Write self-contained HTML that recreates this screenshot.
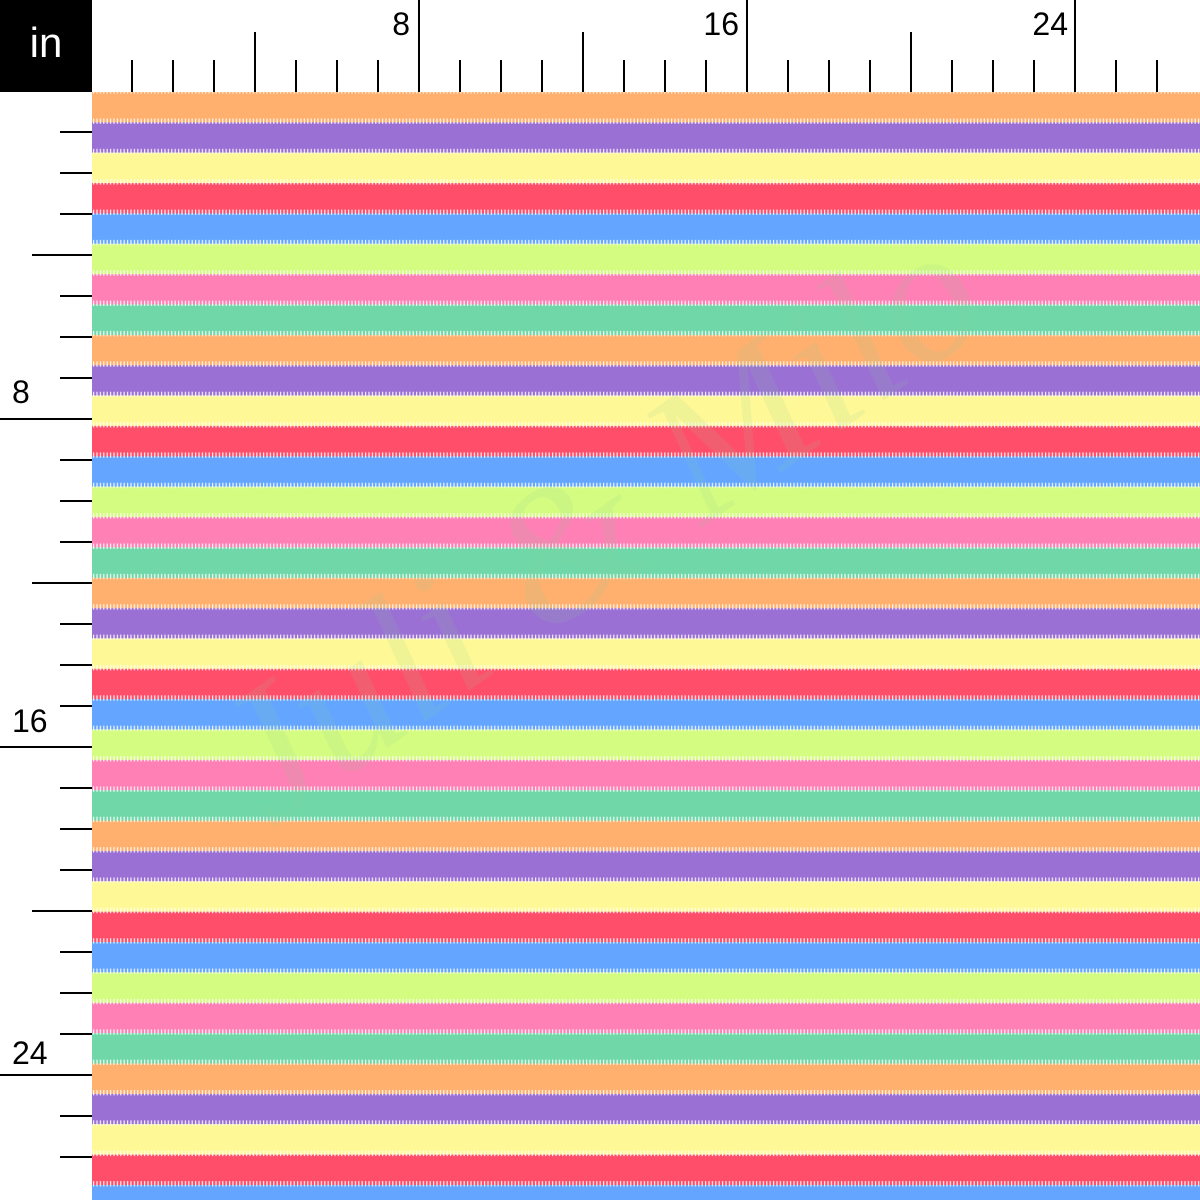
<!DOCTYPE html>
<html><head><meta charset="utf-8"><style>
body{margin:0;width:1200px;height:1200px;overflow:hidden;background:#fff;font-family:"Liberation Sans",sans-serif}
</style></head><body>
<svg width="1200" height="1200" xmlns="http://www.w3.org/2000/svg" style="position:absolute;left:0;top:0">
<defs>
<pattern id="st" x="92" y="92" width="1108" height="242.88" patternUnits="userSpaceOnUse">
<rect y="0" width="1108" height="30.36" fill="#FFB06E"/>
<rect y="30.36" width="1108" height="30.36" fill="#9B70D4"/>
<rect y="60.72" width="1108" height="30.36" fill="#FFF896"/>
<rect y="91.08" width="1108" height="30.36" fill="#FF4E6A"/>
<rect y="121.44" width="1108" height="30.36" fill="#64A6FF"/>
<rect y="151.8" width="1108" height="30.36" fill="#D4FC80"/>
<rect y="182.16" width="1108" height="30.36" fill="#FF80B4"/>
<rect y="212.52" width="1108" height="30.36" fill="#70D8A8"/>
</pattern>
<pattern id="tt" x="92" y="92" width="3.4" height="30.36" patternUnits="userSpaceOnUse">
<rect x="1" y="26.5" width="1.2" height="5" fill="#fff" opacity="0.9"/>
<rect x="1" y="0" width="1.2" height="1.5" fill="#fff" opacity="0.9"/>
</pattern>
</defs>
<rect x="92" y="92" width="1108" height="1108" fill="url(#st)"/>
<rect x="92" y="92" width="1108" height="1108" fill="url(#tt)"/>
<text x="270" y="830" transform="rotate(-35 270 830)" font-family="Liberation Serif" font-style="italic" font-size="190" fill="#8ecf9a" opacity="0.12">Juli &amp; Milo</text>
<rect x="0" y="0" width="92" height="92" fill="#000"/>
<text x="46" y="57" text-anchor="middle" font-size="42" fill="#fff">in</text>
<g stroke="#000" stroke-width="2">
<line x1="132" y1="60" x2="132" y2="92"/><line x1="173" y1="60" x2="173" y2="92"/><line x1="214" y1="60" x2="214" y2="92"/>
<line x1="255" y1="32" x2="255" y2="92"/>
<line x1="296" y1="60" x2="296" y2="92"/><line x1="337" y1="60" x2="337" y2="92"/><line x1="378" y1="60" x2="378" y2="92"/>
<line x1="419" y1="0" x2="419" y2="92"/>
<line x1="460" y1="60" x2="460" y2="92"/><line x1="501" y1="60" x2="501" y2="92"/><line x1="542" y1="60" x2="542" y2="92"/>
<line x1="583" y1="32" x2="583" y2="92"/>
<line x1="624" y1="60" x2="624" y2="92"/><line x1="665" y1="60" x2="665" y2="92"/><line x1="706" y1="60" x2="706" y2="92"/>
<line x1="747" y1="0" x2="747" y2="92"/>
<line x1="788" y1="60" x2="788" y2="92"/><line x1="829" y1="60" x2="829" y2="92"/><line x1="870" y1="60" x2="870" y2="92"/>
<line x1="911" y1="32" x2="911" y2="92"/>
<line x1="952" y1="60" x2="952" y2="92"/><line x1="993" y1="60" x2="993" y2="92"/><line x1="1034" y1="60" x2="1034" y2="92"/>
<line x1="1075" y1="0" x2="1075" y2="92"/>
<line x1="1116" y1="60" x2="1116" y2="92"/><line x1="1157" y1="60" x2="1157" y2="92"/>

<line y1="132" x1="60" y2="132" x2="92"/><line y1="173" x1="60" y2="173" x2="92"/><line y1="214" x1="60" y2="214" x2="92"/>
<line y1="255" x1="32" y2="255" x2="92"/>
<line y1="296" x1="60" y2="296" x2="92"/><line y1="337" x1="60" y2="337" x2="92"/><line y1="378" x1="60" y2="378" x2="92"/>
<line y1="419" x1="0" y2="419" x2="92"/>
<line y1="460" x1="60" y2="460" x2="92"/><line y1="501" x1="60" y2="501" x2="92"/><line y1="542" x1="60" y2="542" x2="92"/>
<line y1="583" x1="32" y2="583" x2="92"/>
<line y1="624" x1="60" y2="624" x2="92"/><line y1="665" x1="60" y2="665" x2="92"/><line y1="706" x1="60" y2="706" x2="92"/>
<line y1="747" x1="0" y2="747" x2="92"/>
<line y1="788" x1="60" y2="788" x2="92"/><line y1="829" x1="60" y2="829" x2="92"/><line y1="870" x1="60" y2="870" x2="92"/>
<line y1="911" x1="32" y2="911" x2="92"/>
<line y1="952" x1="60" y2="952" x2="92"/><line y1="993" x1="60" y2="993" x2="92"/><line y1="1034" x1="60" y2="1034" x2="92"/>
<line y1="1075" x1="0" y2="1075" x2="92"/>
<line y1="1116" x1="60" y2="1116" x2="92"/><line y1="1157" x1="60" y2="1157" x2="92"/>
</g>
<g font-size="32" fill="#000">
<text x="410" y="35" text-anchor="end">8</text>
<text x="739" y="35" text-anchor="end">16</text>
<text x="1068" y="35" text-anchor="end">24</text>
<text x="12" y="403">8</text>
<text x="12" y="732">16</text>
<text x="12" y="1064">24</text>
</g>
</svg>
</body></html>
